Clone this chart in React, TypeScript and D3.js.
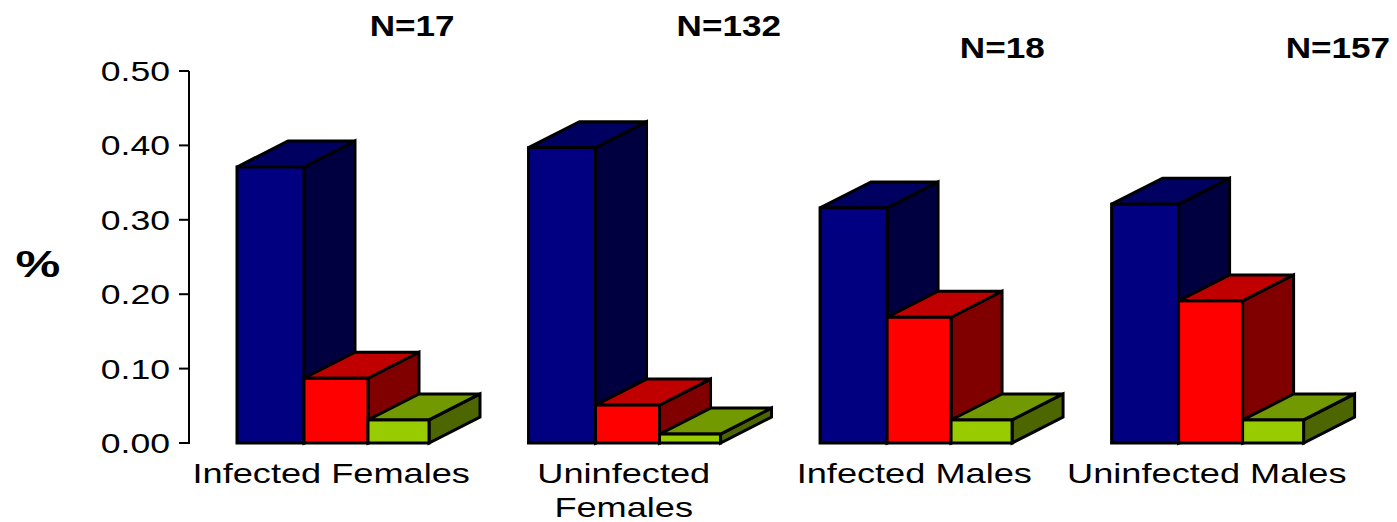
import React from "react";
import * as d3 from "d3";

const categories = ["Infected Females", "Uninfected Females", "Infected Males", "Uninfected Males"];
const categoryLines = [["Infected Females"], ["Uninfected", "Females"], ["Infected Males"], ["Uninfected Males"]];
const nLabels = ["N=17", "N=132", "N=18", "N=157"];
const seriesNames = ["a", "b", "c"];
const seriesA = [0.371, 0.397, 0.316, 0.321];
const seriesB = [0.087, 0.051, 0.169, 0.191];
const seriesC = [0.031, 0.012, 0.031, 0.031];
const seriesValues = [seriesA, seriesB, seriesC];
const yTicks = [0, 0.1, 0.2, 0.3, 0.4, 0.5];

const frontColors = ["#000080", "#ff0000", "#99cc00"];
const topColors = ["#000060", "#c00000", "#739900"];
const sideColors = ["#000040", "#800000", "#4d6600"];

const nDx = [79, 104, 86, 130];
const nBase = [36, 36, 58, 58];
const labelDx = [-2, -1, -2, -1];
const barEdges = [0, 67, 131, 192];

const W = 1397, H = 522;
const y = d3.scaleLinear().domain([0, 0.5]).range([443, 71]);
const x0 = d3.scaleBand().domain(categories).range([237, 1304]).paddingInner(0.34);
const depthX = 51, depthY = 26;
const font = "'Liberation Sans', Arial, sans-serif";

function Stretched({ x, y: yy, text, sx, size, bold, anchor = "middle" }: any) {
  return (
    <text
      transform={`translate(${x},${yy}) scale(${sx},1)`}
      fontFamily={font}
      fontSize={size}
      fontWeight={bold ? 700 : 400}
      textAnchor={anchor}
      fill="#000"
    >
      {text}
    </text>
  );
}

export default function App() {
  return (
    <svg width={W} height={H} style={{ position: "absolute", left: 0, top: 0, background: "#fff" }}>
      <line x1={189} x2={189} y1={y(0.5)} y2={y(0) + 1} stroke="#000" strokeWidth={2} />
      {yTicks.map((t) => (
        <g key={t}>
          <line x1={179} x2={189} y1={y(t)} y2={y(t)} stroke="#000" strokeWidth={2} />
          <Stretched x={170} y={y(t) + 10} text={t.toFixed(2)} sx={1.27} size={28} anchor="end" />
        </g>
      ))}
      <Stretched x={38} y={277} text="%" sx={1.4} size={36} bold />
      {categories.map((c, i) => {
        const gx = x0(c)!;
        const cx = gx + x0.bandwidth() / 2;
        return (
          <g key={c}>
            {seriesNames.map((s, j) => {
              const v = seriesValues[j][i];
              const l = gx + barEdges[j];
              const r = gx + barEdges[j + 1];
              const t = y(v);
              const b = y(0);
              const pts = (arr: number[][]) => arr.map((p) => p.join(",")).join(" ");
              return (
                <g key={s} stroke="#000" strokeWidth={3} strokeLinejoin="miter">
                  <polygon
                    points={pts([[r, t], [r + depthX, t - depthY], [r + depthX, b - depthY], [r, b]])}
                    fill={sideColors[j]}
                  />
                  <polygon
                    points={pts([[l, t], [l + depthX, t - depthY], [r + depthX, t - depthY], [r, t]])}
                    fill={topColors[j]}
                  />
                  <rect x={l} y={t} width={r - l} height={b - t} fill={frontColors[j]} />
                </g>
              );
            })}
            {categoryLines[i].map((line, k) => (
              <Stretched key={line} x={cx + labelDx[i]} y={483 + k * 34} text={line} sx={1.34} size={27} />
            ))}
            <Stretched x={cx + nDx[i]} y={nBase[i]} text={nLabels[i]} sx={1.17} size={30} bold />
          </g>
        );
      })}
    </svg>
  );
}
